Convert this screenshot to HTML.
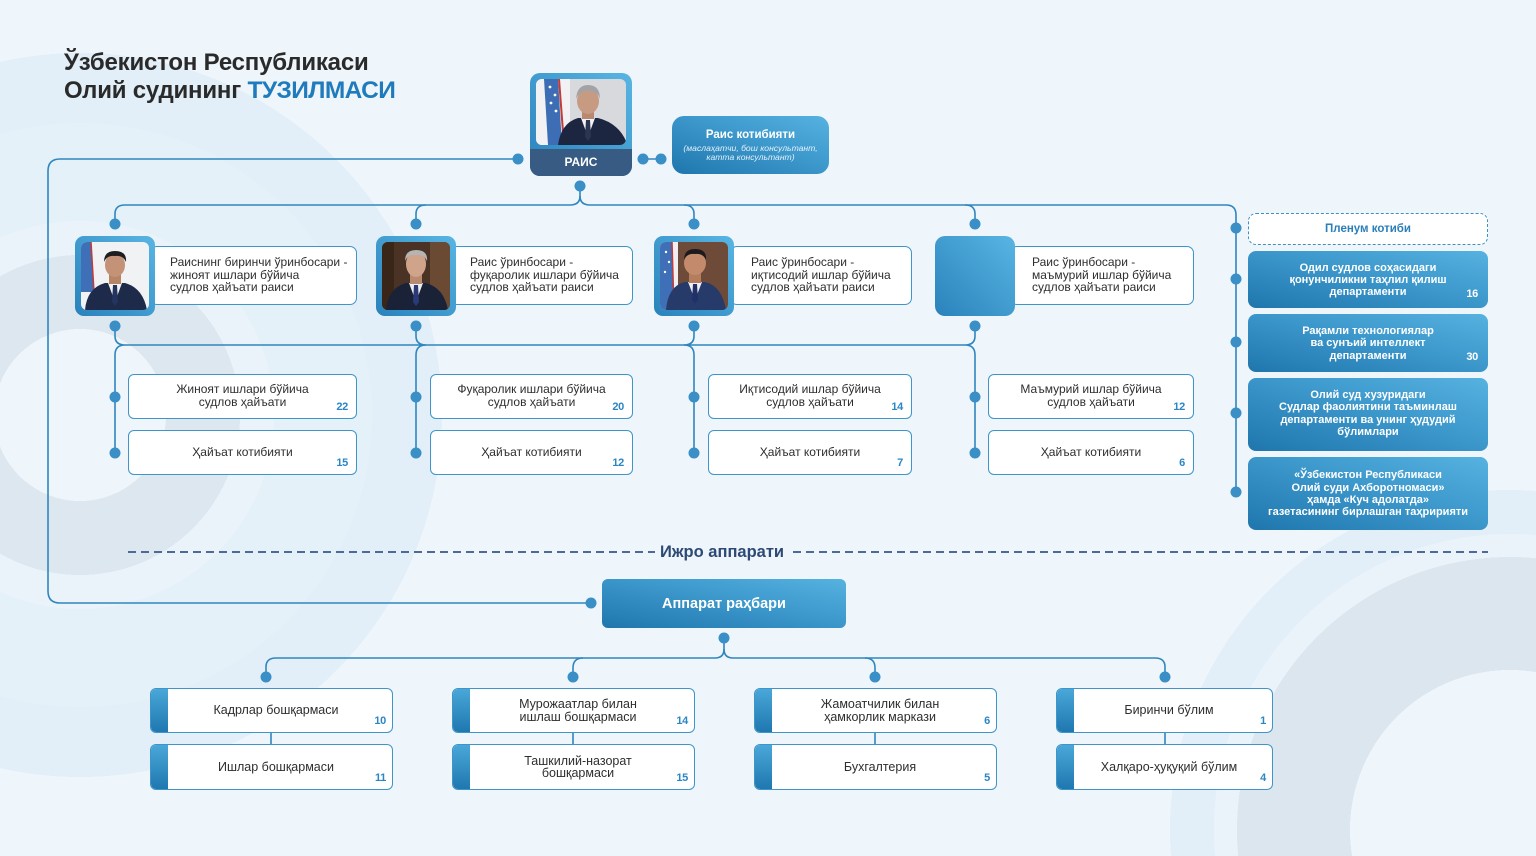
<!DOCTYPE html>
<html><head><meta charset="utf-8">
<style>
*{margin:0;padding:0;box-sizing:border-box}
html,body{width:1536px;height:856px;overflow:hidden}
body{position:relative;font-family:"Liberation Sans","DejaVu Sans",sans-serif;color:#2b2b2b;
background-color:#eef5fb;
background-image:
radial-gradient(circle at 1510px 830px,#eef5fb 0,#eef5fb 160px,#dce6ef 160px,#dce6ef 273px,#eaf3fa 273px,#eaf3fa 296px,#e2eff8 296px,#e2eff8 340px,rgba(238,245,251,0) 340px),
radial-gradient(circle at 80px 415px,#eef5fb 0,#eef5fb 86px,#dde7f0 86px,#dde7f0 160px,#ebf3fa 160px,#ebf3fa 194px,#e5f1f9 194px,#e5f1f9 292px,#e2eff8 292px,#e2eff8 362px,rgba(238,245,251,0) 362px);
background-repeat:no-repeat}
.a{position:absolute}
.blue{background:linear-gradient(to top right,#1e76ad,#3d98cc 55%,#56b2e0);border-radius:8px;color:#fff}
.frame{background:linear-gradient(to top right,#2a82bb,#58b5e3);border-radius:9px}
.wb{background:#fff;border:1.5px solid #3d95c9;border-radius:7px}
.dtxt{position:absolute;font-size:12px;line-height:12.6px;color:#2e2e2e;white-space:nowrap}
.ctr{display:flex;flex-direction:column;align-items:center;justify-content:center;text-align:center;white-space:nowrap}
.num{position:absolute;font-weight:bold;font-size:11px;color:#2b86c4;letter-spacing:-0.3px}
.dept{font-size:12px;line-height:12.5px;color:#2e2e2e}
.rc{font-size:11px;line-height:12.3px;font-weight:bold;color:#fff}
.bb{background:#fff;border:1.5px solid #3d95c9;border-radius:6px;overflow:hidden}
.bb .st{position:absolute;left:0;top:0;bottom:0;width:17px;background:linear-gradient(to bottom,#4aa7d8,#1f78b0)}
.bb .t{position:absolute;left:17px;right:8px;top:0;bottom:0;font-size:12.5px;line-height:12.5px;color:#2e2e2e}
.bb .num{right:6px;bottom:5px}
</style></head>
<body>

<!-- title -->
<div class="a" style="left:64px;top:49px;font-weight:bold;font-size:24px;line-height:28px;color:#2a2a2a;letter-spacing:-0.2px;white-space:nowrap">Ўзбекистон Республикаси<br>Олий судининг <span style="color:#1f7bbb;font-size:24.5px;letter-spacing:-0.6px">ТУЗИЛМАСИ</span></div>

<!-- connectors -->
<svg class="a" style="left:0;top:0" width="1536" height="856" viewBox="0 0 1536 856" fill="none">
<g stroke="#2f86be" stroke-width="1.6" fill="none">
<path d="M518 159 H60 Q48 159 48 171 V591 Q48 603 60 603 H591"/>
<path d="M643 159 H661"/>
<path d="M580 186 V196 Q580 205 570 205 H125 Q115 205 115 214 V224"/>
<path d="M580 196 Q580 205 590 205 H1226 Q1236 205 1236 215 V492"/>
<path d="M416 224 V214 Q416 205 426 205"/>
<path d="M694 224 V214 Q694 205 684 205"/>
<path d="M975 224 V214 Q975 205 965 205"/>
<path d="M125 345 H965"/>
<path d="M115 326 V336 Q115 345 125 345 M125 345 Q115 345 115 355 V453"/>
<path d="M416 326 V336 Q416 345 426 345 M426 345 Q416 345 416 355 V453"/>
<path d="M694 326 V336 Q694 345 684 345 M684 345 Q694 345 694 355 V453"/>
<path d="M975 326 V336 Q975 345 965 345 M965 345 Q975 345 975 355 V453"/>
<path d="M724 638 V649 Q724 658 715 658 H276 Q266 658 266 667 V677"/>
<path d="M724 649 Q724 658 733 658 H1155 Q1165 658 1165 667 V677"/>
<path d="M573 677 V668 Q573 658 583 658"/>
<path d="M875 677 V668 Q875 658 865 658"/>
<path d="M271 733 V744 M573 733 V744 M875 733 V744 M1165 733 V744"/>
</g>
<g stroke="#4d6b96" stroke-width="2" stroke-dasharray="8 5">
<path d="M128 552 H655"/>
<path d="M793 552 H1488"/>
</g>
<g fill="#3a8fc6">
<circle cx="518" cy="159" r="5.5"/><circle cx="643" cy="159" r="5.5"/><circle cx="661" cy="159" r="5.5"/>
<circle cx="580" cy="186" r="5.5"/>
<circle cx="115" cy="224" r="5.5"/><circle cx="416" cy="224" r="5.5"/><circle cx="694" cy="224" r="5.5"/><circle cx="975" cy="224" r="5.5"/>
<circle cx="115" cy="326" r="5.5"/><circle cx="416" cy="326" r="5.5"/><circle cx="694" cy="326" r="5.5"/><circle cx="975" cy="326" r="5.5"/>
<circle cx="115" cy="397" r="5.5"/><circle cx="416" cy="397" r="5.5"/><circle cx="694" cy="397" r="5.5"/><circle cx="975" cy="397" r="5.5"/>
<circle cx="115" cy="453" r="5.5"/><circle cx="416" cy="453" r="5.5"/><circle cx="694" cy="453" r="5.5"/><circle cx="975" cy="453" r="5.5"/>
<circle cx="1236" cy="228" r="5.5"/><circle cx="1236" cy="279" r="5.5"/><circle cx="1236" cy="342" r="5.5"/><circle cx="1236" cy="413" r="5.5"/><circle cx="1236" cy="492" r="5.5"/>
<circle cx="591" cy="603" r="5.5"/><circle cx="724" cy="638" r="5.5"/>
<circle cx="266" cy="677" r="5.5"/><circle cx="573" cy="677" r="5.5"/><circle cx="875" cy="677" r="5.5"/><circle cx="1165" cy="677" r="5.5"/>
</g>
</svg>

<div class="a" style="left:660px;top:541px;font-weight:bold;font-size:16.5px;line-height:22px;color:#2d4a75;white-space:nowrap">Ижро аппарати</div>

<!-- РАИС -->
<div class="a frame" style="left:530px;top:73px;width:102px;height:103px;border-radius:10px;overflow:hidden">
  <svg class="a" style="left:6px;top:6px;border-radius:6px" width="90" height="66" viewBox="0 0 90 66">
    <rect width="90" height="66" fill="#d8d9dd"/>
    <rect x="0" y="0" width="34" height="66" fill="#f2f2f4"/>
    <path d="M8 0 H22 L26 66 H12 Z" fill="#3d6db4"/>
    <path d="M23 0 L28 66" stroke="#c43a36" stroke-width="2"/>
    <circle cx="14" cy="8" r="1.4" fill="#fff"/><circle cx="19" cy="16" r="1.4" fill="#fff"/><circle cx="15" cy="24" r="1.4" fill="#fff"/><circle cx="20" cy="32" r="1.4" fill="#fff"/>
    <path d="M22 66 Q25 44 42 39 L62 39 Q82 44 90 62 V66 Z" fill="#1c2640"/>
    <path d="M45 39 L52 58 L59 39 Z" fill="#f2f2f2"/>
    <path d="M50 41 L54 41 L55 58 L52 62 L49 58 Z" fill="#2b3552"/>
    <rect x="46" y="30" width="12" height="10" fill="#b98870"/>
    <ellipse cx="52" cy="22" rx="11" ry="13" fill="#c79b82"/>
    <path d="M40 20 Q41 6 52 6 Q64 6 64 20 Q62 12 52 12 Q43 12 40 20 Z" fill="#a3a3a6"/>
  </svg>
  <div class="a" style="left:0;top:76px;width:102px;height:27px;background:#375b82;color:#fff;font-weight:bold;font-size:12px;line-height:27px;text-align:center">РАИС</div>
</div>

<!-- Раис котибияти -->
<div class="a blue ctr" style="left:672px;top:116px;width:157px;height:58px;border-radius:12px">
  <div style="font-weight:bold;font-size:11.5px;line-height:14px">Раис котибияти</div>
  <div style="font-style:italic;font-size:8.6px;line-height:9px;margin-top:2px;color:#e3f1fa">(маслаҳатчи, бош консультант,<br>катта консультант)</div>
</div>

<!-- deputies -->
<div class="a wb" style="left:150px;top:246px;width:207px;height:59px"></div>
<div class="a wb" style="left:450px;top:246px;width:183px;height:59px"></div>
<div class="a wb" style="left:730px;top:246px;width:182px;height:59px"></div>
<div class="a wb" style="left:1010px;top:246px;width:184px;height:59px"></div>

<div class="a frame" style="left:75px;top:236px;width:80px;height:80px">
  <svg class="a" style="left:6px;top:6px;border-radius:6px" width="68" height="68" viewBox="0 0 68 68">
    <rect width="68" height="68" fill="#f1f2f4"/>
    <path d="M0 0 H10 L13 50 H0 Z" fill="#3f6fb6"/>
    <path d="M10 0 L13 50" stroke="#c43a36" stroke-width="1.5"/>
    <path d="M4 68 Q6 46 24 41 L44 41 Q62 46 66 68 Z" fill="#1d2a4a"/>
    <path d="M27 41 L34 60 L41 41 Z" fill="#f4f4f4"/>
    <path d="M32 43 L36 43 L37 60 L34 64 L31 60 Z" fill="#24345e"/>
    <rect x="28" y="31" width="12" height="11" fill="#b78466"/>
    <ellipse cx="34" cy="23" rx="10" ry="12" fill="#c49277"/>
    <path d="M23 20 Q23 9 34 9 Q46 9 45 20 Q42 13 34 14 Q26 13 23 20 Z" fill="#1e1e22"/>
  </svg>
</div>
<div class="a frame" style="left:376px;top:236px;width:80px;height:80px">
  <svg class="a" style="left:6px;top:6px;border-radius:6px" width="68" height="68" viewBox="0 0 68 68">
    <rect width="68" height="68" fill="#4a3325"/>
    <rect x="48" y="0" width="20" height="68" fill="#6b4a34"/>
    <rect x="0" y="0" width="12" height="68" fill="#3a2619"/>
    <path d="M4 68 Q6 46 24 41 L44 41 Q62 46 66 68 Z" fill="#1a2238"/>
    <path d="M27 41 L34 60 L41 41 Z" fill="#eeeeee"/>
    <path d="M32 43 L36 43 L37 60 L34 64 L31 60 Z" fill="#2a3a78"/>
    <rect x="28" y="31" width="12" height="11" fill="#b88a70"/>
    <ellipse cx="34" cy="22" rx="10" ry="13" fill="#cfa48a"/>
    <path d="M23 19 Q23 8 34 8 Q46 8 45 19 Q42 12 34 13 Q26 12 23 19 Z" fill="#b5b5b5"/>
  </svg>
</div>
<div class="a frame" style="left:654px;top:236px;width:80px;height:80px">
  <svg class="a" style="left:6px;top:6px;border-radius:6px" width="68" height="68" viewBox="0 0 68 68">
    <rect width="68" height="68" fill="#6e4a38"/>
    <rect x="0" y="0" width="18" height="68" fill="#f0f0f2"/>
    <path d="M0 0 H12 L14 68 H0 Z" fill="#3f6fb6"/>
    <path d="M12 0 L14 68" stroke="#c43a36" stroke-width="1.5"/>
    <circle cx="6" cy="10" r="1.2" fill="#fff"/><circle cx="9" cy="20" r="1.2" fill="#fff"/><circle cx="5" cy="30" r="1.2" fill="#fff"/>
    <path d="M6 68 Q8 44 25 40 L45 40 Q62 44 66 68 Z" fill="#263b6a"/>
    <path d="M28 40 L35 58 L42 40 Z" fill="#f0f0f0"/>
    <path d="M33 42 L37 42 L38 58 L35 62 L32 58 Z" fill="#22306a"/>
    <rect x="29" y="30" width="12" height="11" fill="#b47d5d"/>
    <ellipse cx="35" cy="21" rx="11" ry="12" fill="#c38b6c"/>
    <path d="M24 18 Q24 7 35 7 Q47 7 46 18 Q43 11 35 12 Q27 11 24 18 Z" fill="#1b1b1e"/>
  </svg>
</div>
<div class="a frame" style="left:935px;top:236px;width:80px;height:80px;border-radius:10px"></div>

<div class="dtxt" style="left:170px;top:256px">Раиснинг биринчи ўринбосари -<br>жиноят ишлари бўйича<br>судлов ҳайъати раиси</div>
<div class="dtxt" style="left:470px;top:256px">Раис ўринбосари -<br>фуқаролик ишлари бўйича<br>судлов ҳайъати раиси</div>
<div class="dtxt" style="left:751px;top:256px">Раис ўринбосари -<br>иқтисодий ишлар бўйича<br>судлов ҳайъати раиси</div>
<div class="dtxt" style="left:1032px;top:256px">Раис ўринбосари -<br>маъмурий ишлар бўйича<br>судлов ҳайъати раиси</div>

<!-- department boxes -->
<div class="a wb ctr dept" style="left:128px;top:374px;width:229px;height:45px;border-radius:6px;padding-bottom:2px">Жиноят ишлари бўйича<br>судлов ҳайъати<span class="num" style="right:8px;bottom:5px">22</span></div>
<div class="a wb ctr dept" style="left:128px;top:430px;width:229px;height:45px;border-radius:6px;padding-bottom:1px">Ҳайъат котибияти<span class="num" style="right:8px;bottom:5px">15</span></div>
<div class="a wb ctr dept" style="left:430px;top:374px;width:203px;height:45px;border-radius:6px;padding-bottom:2px">Фуқаролик ишлари бўйича<br>судлов ҳайъати<span class="num" style="right:8px;bottom:5px">20</span></div>
<div class="a wb ctr dept" style="left:430px;top:430px;width:203px;height:45px;border-radius:6px;padding-bottom:1px">Ҳайъат котибияти<span class="num" style="right:8px;bottom:5px">12</span></div>
<div class="a wb ctr dept" style="left:708px;top:374px;width:204px;height:45px;border-radius:6px;padding-bottom:2px">Иқтисодий ишлар бўйича<br>судлов ҳайъати<span class="num" style="right:8px;bottom:5px">14</span></div>
<div class="a wb ctr dept" style="left:708px;top:430px;width:204px;height:45px;border-radius:6px;padding-bottom:1px">Ҳайъат котибияти<span class="num" style="right:8px;bottom:5px">7</span></div>
<div class="a wb ctr dept" style="left:988px;top:374px;width:206px;height:45px;border-radius:6px;padding-bottom:2px">Маъмурий ишлар бўйича<br>судлов ҳайъати<span class="num" style="right:8px;bottom:5px">12</span></div>
<div class="a wb ctr dept" style="left:988px;top:430px;width:206px;height:45px;border-radius:6px;padding-bottom:1px">Ҳайъат котибияти<span class="num" style="right:8px;bottom:5px">6</span></div>

<!-- right column -->
<div class="a ctr" style="left:1248px;top:213px;width:240px;height:32px;background:#fff;border:1.5px dashed #3d8fc4;border-radius:8px;font-weight:bold;font-size:11.5px;color:#2a7fb8">Пленум котиби</div>
<div class="a blue ctr rc" style="left:1248px;top:251px;width:240px;height:57px;padding-top:1px">Одил судлов соҳасидаги<br>қонунчиликни таҳлил қилиш<br>департаменти<span class="num" style="right:10px;bottom:8px;color:#fff">16</span></div>
<div class="a blue ctr rc" style="left:1248px;top:314px;width:240px;height:58px;padding-top:1px">Рақамли технологиялар<br>ва сунъий интеллект<br>департаменти<span class="num" style="right:10px;bottom:9px;color:#fff">30</span></div>
<div class="a blue ctr rc" style="left:1248px;top:378px;width:240px;height:73px;padding-bottom:2px">Олий суд хузуридаги<br>Судлар фаолиятини таъминлаш<br>департаменти ва унинг ҳудудий<br>бўлимлари</div>
<div class="a blue ctr rc" style="left:1248px;top:457px;width:240px;height:73px;padding-top:1px">«Ўзбекистон Республикаси<br>Олий суди Ахборотномаси»<br>ҳамда «Куч адолатда»<br>газетасининг бирлашган таҳририяти</div>

<!-- Аппарат раҳбари -->
<div class="a blue ctr" style="left:602px;top:579px;width:244px;height:49px;border-radius:6px;font-weight:bold;font-size:14.5px">Аппарат раҳбари</div>

<!-- bottom boxes -->
<div class="a bb" style="left:150px;top:688px;width:243px;height:45px"><div class="st"></div><div class="t ctr">Кадрлар бошқармаси</div><span class="num">10</span></div>
<div class="a bb" style="left:150px;top:744px;width:243px;height:46px"><div class="st"></div><div class="t ctr">Ишлар бошқармаси</div><span class="num">11</span></div>
<div class="a bb" style="left:452px;top:688px;width:243px;height:45px"><div class="st"></div><div class="t ctr">Мурожаатлар билан<br>ишлаш бошқармаси</div><span class="num">14</span></div>
<div class="a bb" style="left:452px;top:744px;width:243px;height:46px"><div class="st"></div><div class="t ctr">Ташкилий-назорат<br>бошқармаси</div><span class="num">15</span></div>
<div class="a bb" style="left:754px;top:688px;width:243px;height:45px"><div class="st"></div><div class="t ctr">Жамоатчилик билан<br>ҳамкорлик маркази</div><span class="num">6</span></div>
<div class="a bb" style="left:754px;top:744px;width:243px;height:46px"><div class="st"></div><div class="t ctr">Бухгалтерия</div><span class="num">5</span></div>
<div class="a bb" style="left:1056px;top:688px;width:217px;height:45px"><div class="st"></div><div class="t ctr">Биринчи бўлим</div><span class="num">1</span></div>
<div class="a bb" style="left:1056px;top:744px;width:217px;height:46px"><div class="st"></div><div class="t ctr">Халқаро-ҳуқуқий бўлим</div><span class="num">4</span></div>

</body></html>
